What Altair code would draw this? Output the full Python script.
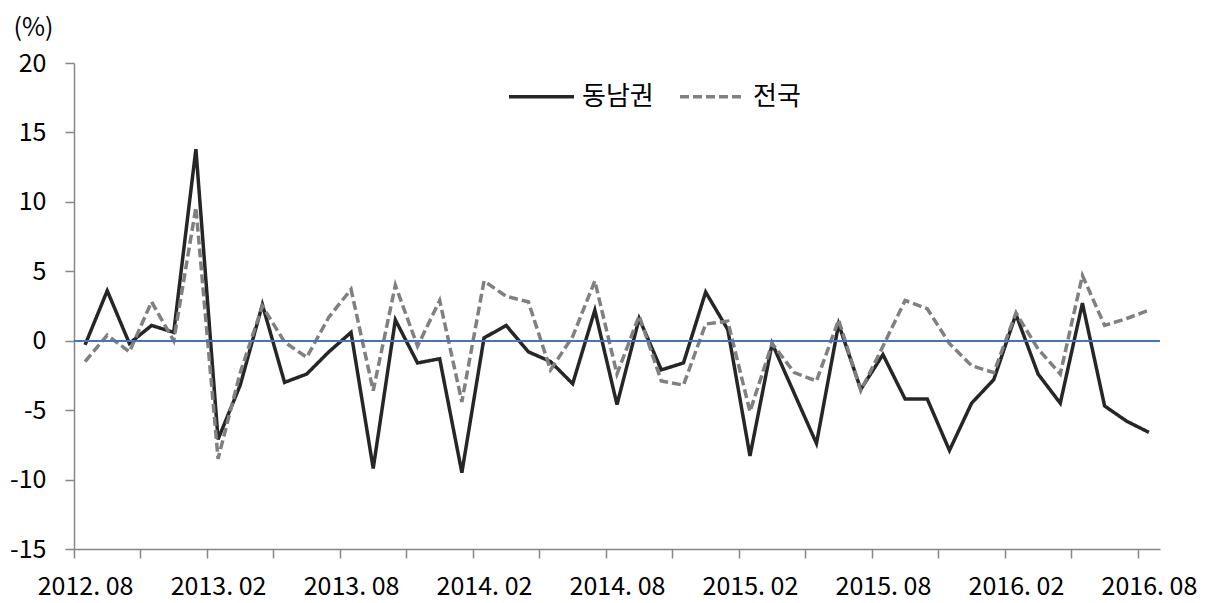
import altair as alt
import pandas as pd

series_names = ["동남권", "전국"]
tick_labels = ["2012. 08", "2013. 02", "2013. 08", "2014. 02", "2014. 08",
               "2015. 02", "2015. 08", "2016. 02", "2016. 08"]

dongnam = [-0.3, 3.6, -0.2, 1.1, 0.6, 13.8, -7.1, -3.2, 2.6, -3.0,
           -2.4, -0.8, 0.6, -9.2, 1.5, -1.6, -1.3, -9.5, 0.2, 1.1,
           -0.8, -1.5, -3.1, 2.2, -4.6, 1.6, -2.1, -1.6, 3.5, 0.8,
           -8.3, -0.2, -3.8, -7.4, 1.2, -3.5, -1.0, -4.2, -4.2, -7.9,
           -4.5, -2.8, 1.9, -2.4, -4.5, 2.7, -4.7, -5.8, -6.6]
national = [-1.5, 0.4, -0.8, 2.8, 0.0, 9.6, -8.5, -2.3, 2.5, -0.1,
            -1.2, 1.7, 3.7, -3.6, 4.0, -0.4, 2.9, -4.4, 4.3, 3.2,
            2.8, -2.1, 0.3, 4.3, -2.4, 1.8, -2.9, -3.2, 1.2, 1.4,
            -5.1, -0.2, -2.3, -2.9, 1.5, -3.6, -0.4, 2.9, 2.3, -0.2,
            -1.8, -2.3, 2.0, -0.6, -2.4, 4.7, 1.1, 1.6, 2.2]

n = len(dongnam)
rows = []
for i, v in enumerate(dongnam):
    rows.append({"idx": i, "value": v, "series": series_names[0]})
for i, v in enumerate(national):
    rows.append({"idx": i, "value": v, "series": series_names[1]})
df = pd.DataFrame(rows)

FONT = "Noto Sans CJK KR"
FS = 25
W, H = 1086, 486
band = W / n

# tick marks every 3 categories (at category boundaries), labels every 6
tick_vals = [-0.5 + 3 * k for k in range(17)]
lab_arr = []
for k in range(17):
    if k % 2 == 0:
        lab_arr.append("'" + tick_labels[k // 2] + "'")
    else:
        lab_arr.append("''")
label_expr = "[" + ",".join(lab_arr) + "][round((datum.value + 0.5) / 3)]"

x_enc = alt.X("idx:Q",
              scale=alt.Scale(domain=[-0.5, n - 0.5], nice=False, zero=False),
              axis=alt.Axis(values=tick_vals, labelExpr=label_expr, title=None,
                            grid=False, tickSize=9, tickColor="#868686",
                            tickWidth=1.5, domainColor="#868686", domainWidth=1.5,
                            labelFont=FONT, labelFontSize=FS, labelColor="#000000",
                            labelOffset=band / 2, labelOverlap=False,
                            labelFlush=False, labelBound=False, labelPadding=16))

y_enc = alt.Y("value:Q",
              scale=alt.Scale(domain=[-15, 20], nice=False, zero=False),
              axis=alt.Axis(values=[-15, -10, -5, 0, 5, 10, 15, 20],
                            labelExpr="datum.value + ''",
                            title="(%)", titleAngle=0, titleAlign="left",
                            titleBaseline="middle", titleX=-61, titleY=-36,
                            titleFont=FONT, titleFontSize=FS, titleFontWeight="normal",
                            titleColor="#000000",
                            grid=False, tickSize=9, tickColor="#868686",
                            tickWidth=1.5, domainColor="#868686", domainWidth=1.5,
                            labelFont=FONT, labelFontSize=FS, labelColor="#000000",
                            labelPadding=19))

legend = alt.Legend(title=None, orient="none", legendX=433, legendY=-1,
                    direction="horizontal", symbolType="stroke",
                    symbolSize=4225, symbolStrokeWidth=3.5,
                    labelFont=FONT, labelFontSize=26, labelColor="#000000",
                    labelOffset=6, columnPadding=19, padding=0)

lines = alt.Chart(df).mark_line(strokeWidth=3.5).encode(
    x=x_enc,
    y=y_enc,
    color=alt.Color("series:N",
                    scale=alt.Scale(domain=series_names, range=["#262626", "#808080"]),
                    legend=legend),
    strokeDash=alt.StrokeDash("series:N",
                              scale=alt.Scale(domain=series_names, range=[[1, 0], [9, 4]]),
                              legend=legend),
)

zero = alt.Chart(df).mark_rule(color="#4472C4", strokeWidth=1.5).encode(
    y=alt.datum(0)
)

chart = alt.layer(lines, zero).properties(
    width=W, height=H,
    autosize=alt.AutoSizeParams(type="none"),
    padding={"left": 66, "top": 55, "right": 45, "bottom": 53},
).configure_view(stroke=None)

chart.save("out.html", embed_options={"renderer": "svg", "actions": False})
